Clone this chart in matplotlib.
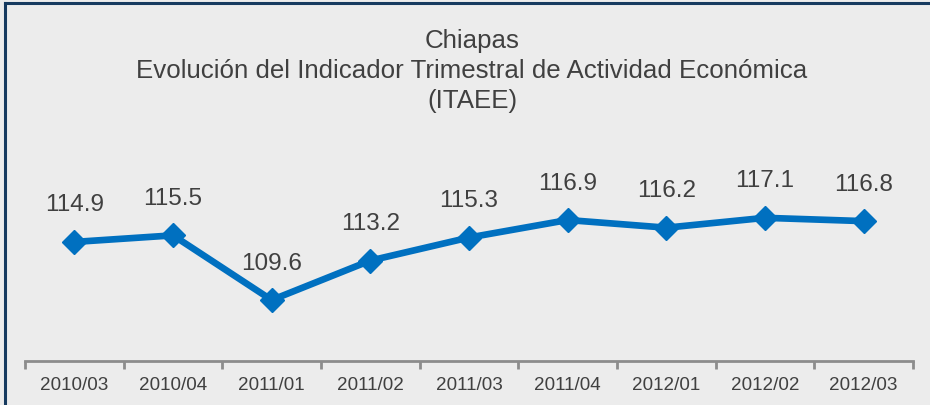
import matplotlib.pyplot as plt
from matplotlib.lines import Line2D
import numpy as np

plt.rcParams['font.family'] = ['Liberation Sans', 'DejaVu Sans']

periods = ['2010/03', '2010/04', '2011/01', '2011/02', '2011/03',
           '2011/04', '2012/01', '2012/02', '2012/03']
itaee = [114.9, 115.5, 109.6, 113.2, 115.3, 116.9, 116.2, 117.1, 116.8]
title_lines = ['Chiapas',
               'Evolución del Indicador Trimestral de Actividad Económica',
               '(ITAEE)']

bg = '#ececec'
blue = '#0070c0'
text_color = '#404040'
axis_gray = '#8c8c8c'

fig = plt.figure(figsize=(9.3, 4.06), dpi=100, facecolor=bg)

# dark frame on left / top edges only
frame_x = 4.5 / 930
frame_y = 1 - 3.5 / 406
fig.add_artist(Line2D([frame_x, frame_x], [0, frame_y], transform=fig.transFigure,
                      color='#163a5f', linewidth=2.2, solid_capstyle='projecting'))
fig.add_artist(Line2D([frame_x, 1], [frame_y, frame_y], transform=fig.transFigure,
                      color='#163a5f', linewidth=2.2, solid_capstyle='projecting'))

ax = fig.add_axes([25 / 930, 44 / 406, 888 / 930, 222 / 406])
ax.set_facecolor(bg)

x = np.arange(len(periods))
ax.plot(x, itaee, color=blue, linewidth=4.8, marker='D', markersize=12,
        markeredgecolor=blue, markerfacecolor=blue, solid_joinstyle='miter',
        clip_on=False, zorder=3)

for xi, v in zip(x, itaee):
    ax.annotate(f'{v:.1f}', (xi, v), xytext=(0, 27), textcoords='offset points',
                ha='center', va='center', fontsize=17.5, color=text_color)

ax.set_xlim(-0.5, len(periods) - 0.5)
ax.set_ylim(104.04, 124.29)
ax.set_yticks([])

# ticks sit on category boundaries, labels at centers
ax.set_xticks(np.arange(-0.5, len(periods), 1.0))
ax.set_xticklabels([])
ax.set_xticks(x, minor=True)
ax.set_xticklabels(periods, minor=True, fontsize=13.6, color=text_color)
ax.tick_params(axis='x', which='major', length=6, width=2, color=axis_gray,
               direction='out')
ax.tick_params(axis='x', which='minor', length=0, pad=11)

for side in ['top', 'right', 'left']:
    ax.spines[side].set_visible(False)
ax.spines['bottom'].set_color(axis_gray)
ax.spines['bottom'].set_linewidth(2)

for i, line in enumerate(title_lines):
    fig.text(472 / 930, 1 - (41 + 30 * i) / 406, line, ha='center', va='center',
             fontsize=18.6, color=text_color)

plt.savefig('out.png', dpi=100, facecolor=bg)
plt.close()
